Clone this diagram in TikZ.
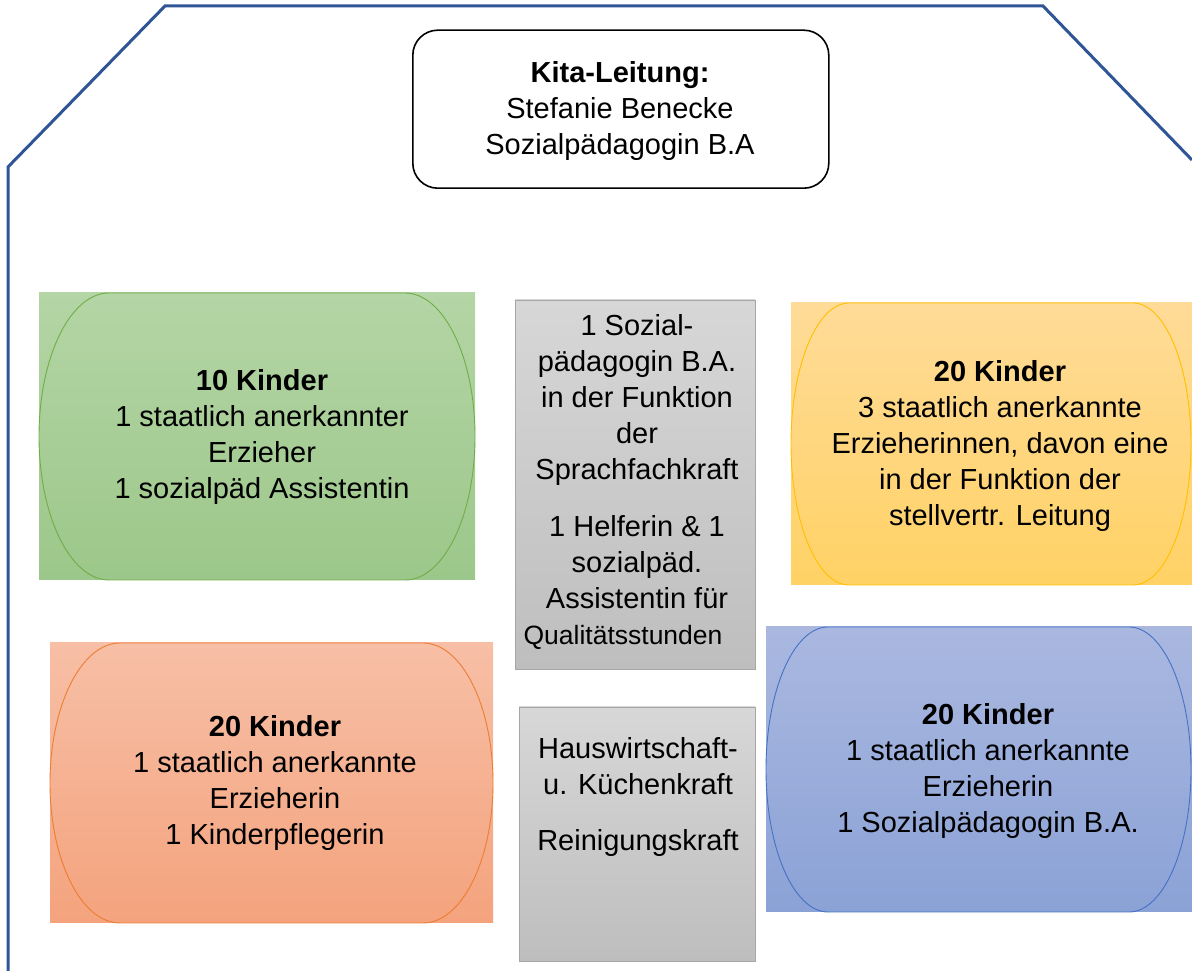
\documentclass[tikz,border=0pt]{standalone}
\usepackage{fontspec}
\setmainfont{Liberation Sans}
\definecolor{houseblue}{HTML}{2F5597}
\definecolor{greenT}{HTML}{B4D5A5}
\definecolor{greenB}{HTML}{9CC78A}
\definecolor{greenL}{HTML}{70AD47}
\definecolor{yellowT}{HTML}{FFDB98}
\definecolor{yellowB}{HTML}{FFD265}
\definecolor{yellowL}{HTML}{FFC000}
\definecolor{blueT}{HTML}{AAB8E0}
\definecolor{blueB}{HTML}{8BA2D6}
\definecolor{blueL}{HTML}{4472C4}
\definecolor{redT}{HTML}{F7BFA6}
\definecolor{redB}{HTML}{F4A37D}
\definecolor{redL}{HTML}{ED7D31}
\definecolor{grayT}{HTML}{D7D7D7}
\definecolor{grayB}{HTML}{BEBEBE}
\definecolor{grayL}{HTML}{A6A6A6}
\newcommand{\kidoval}[6]{%
  \pgfmathsetmacro{\ovry}{(#4-#2)/2}%
  \draw[draw=#6, line width=0.9pt] (#1+#5,#4) -- (#3-#5,#4)
    arc[start angle=90,end angle=0,x radius=#5,y radius=\ovry]
    arc[start angle=0,end angle=-90,x radius=#5,y radius=\ovry]
    -- (#1+#5,#2)
    arc[start angle=270,end angle=180,x radius=#5,y radius=\ovry]
    arc[start angle=180,end angle=90,x radius=#5,y radius=\ovry] -- cycle;}
\tikzset{
  house/.style={draw=houseblue, line width=3pt, line join=miter},
  fillbox/.style={rectangle, inner sep=0pt, outer sep=0pt, anchor=south west},
  staffbox/.style={fillbox, draw=grayL, line width=0.8pt, top color=grayT, bottom color=grayB},
  bodytext/.style={align=center, inner sep=0pt, font=\fontsize{29}{36}\selectfont},
  leadbox/.style={draw=black, line width=1.6pt, rounded corners=25pt, fill=white, rectangle, inner sep=0pt, anchor=south west}
}
\begin{document}
\begin{tikzpicture}[x=1pt,y=1pt]
\useasboundingbox (0,0) rectangle (1192,971);
% house outline
\draw[house] (8,0) -- (8,804) -- (165,965) -- (1043,965) -- (1192,811);
% leadership box
\node[leadbox, minimum width=416pt, minimum height=158pt] (lead) at (412,782) {};
\node[bodytext] (leadtext) at (620,860) {\textbf{Kita-Leitung:}\\Stefanie Benecke\\Sozialpädagogin B.A};
% green group
\node[fillbox, top color=greenT, bottom color=greenB, minimum width=436pt, minimum height=287pt] (green) at (39,391) {};
\kidoval{39}{391}{475}{678}{70}{greenL}
\node[bodytext] (greentext) at (262,533.5) {\textbf{10 Kinder}\\1 staatlich anerkannter\\Erzieher\\1 sozialpäd Assistentin};
% yellow group
\node[fillbox, top color=yellowT, bottom color=yellowB, minimum width=401pt, minimum height=282pt] (yellow) at (791,386) {};
\kidoval{791}{386}{1191}{668}{58}{yellowL}
\node[bodytext] (yellowtext) at (1000,525) {\textbf{20 Kinder}\\3 staatlich anerkannte\\Erzieherinnen, davon eine\\in der Funktion der\\stellvertr. Leitung};
% red group
\node[fillbox, top color=redT, bottom color=redB, minimum width=443pt, minimum height=280pt] (red) at (50,48) {};
\kidoval{50}{48}{493}{328}{70}{redL}
\node[bodytext] (redtext) at (275,187.5) {\textbf{20 Kinder}\\1 staatlich anerkannte\\Erzieherin\\1 Kinderpflegerin};
% blue group
\node[fillbox, top color=blueT, bottom color=blueB, minimum width=426pt, minimum height=285pt] (blue) at (766,59) {};
\kidoval{766}{59}{1191}{344}{62}{blueL}
\node[bodytext] (bluetext) at (988,199.5) {\textbf{20 Kinder}\\1 staatlich anerkannte\\Erzieherin\\1 Sozialpädagogin B.A.};
% staff boxes
\node[staffbox, minimum width=240pt, minimum height=369pt] (staff) at (515,302) {};
\node[bodytext] (stafftext) at (637,488.5) {1 Sozial-\\pädagogin B.A.\\in der Funktion\\der\\Sprachfachkraft\\[21pt]1 Helferin \& 1\\sozialpäd.\\Assistentin für\\{\fontsize{26.5}{36}\selectfont Qualitätsstunden}\hspace*{28pt}};
\node[staffbox, minimum width=236pt, minimum height=254pt] (house) at (519,10) {};
\node[bodytext] (housetext) at (638,174) {Hauswirtschaft-\\u. Küchenkraft\\[20pt]Reinigungskraft};
\end{tikzpicture}
\end{document}
